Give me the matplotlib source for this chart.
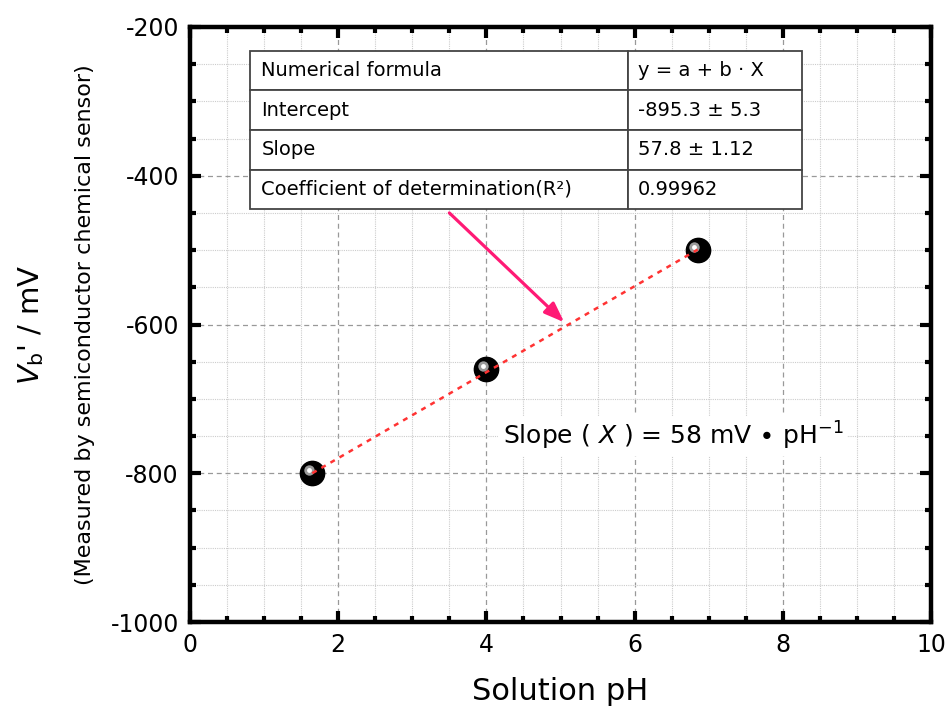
import matplotlib.pyplot as plt
import matplotlib.transforms as mtransforms
from matplotlib.ticker import MultipleLocator

plt.rcParams['font.family'] = ['DejaVu Sans']
plt.rcParams['mathtext.fontset'] = 'dejavusans'
plt.rcParams['axes.unicode_minus'] = False

# === DATA ===
ph = [1.65, 4.0, 6.85]
vb = [-800, -660, -500]
intercept = -895.3
slope = 57.8

table_labels = ['Numerical formula', 'Intercept', 'Slope',
                'Coefficient of determination(R²)']
table_values = ['y = a + b · X', '-895.3 ± 5.3', '57.8 ± 1.12', '0.99962']

PINK = '#FF1A75'
RED = '#FF3333'

fig = plt.figure(figsize=(9.51, 7.18), dpi=100)
ax = fig.add_axes([0.1998, 0.1337, 0.7792, 0.8287])

ax.set_xlim(0, 10)
ax.set_ylim(-1000, -200)
ax.xaxis.set_major_locator(MultipleLocator(2))
ax.xaxis.set_minor_locator(MultipleLocator(0.5))
ax.yaxis.set_major_locator(MultipleLocator(200))
ax.yaxis.set_minor_locator(MultipleLocator(50))

ax.grid(which='major', color='#999999', linestyle=(0, (4, 3)), linewidth=0.9)
ax.grid(which='minor', color='#cccccc', linestyle=(0, (1, 1)), linewidth=0.8)
ax.set_axisbelow(True)

for s in ax.spines.values():
    s.set_linewidth(3.2)
ax.tick_params(which='both', direction='in', top=True, right=True, width=3,
               labelsize=17, pad=8)
ax.tick_params(which='major', length=8)
ax.tick_params(which='minor', length=4)

# markers: black ball with a small highlight
ax.plot(ph, vb, 'o', color='black', markersize=17.5, zorder=3, linestyle='none')
off = mtransforms.offset_copy(ax.transData, fig=fig, x=-3.5, y=3.5, units='dots')
ax.plot(ph, vb, 'o', color='#9a9a9a', markersize=7.5, markeredgewidth=0,
        transform=off, zorder=4, linestyle='none')
ax.plot(ph, vb, 'o', color='white', markersize=3.5, markeredgewidth=0,
        transform=off, zorder=5, linestyle='none')

# fit line
x_fit = [min(ph), max(ph)]
y_fit = [intercept + slope * x for x in x_fit]
ax.plot(x_fit, y_fit, color=RED, linewidth=1.8, linestyle=(0, (2, 2.2)), zorder=6)

# arrow from table to the line
ax.annotate('', xy=(5.05, -597), xytext=(3.5, -450),
            arrowprops=dict(arrowstyle='-|>,head_width=0.45,head_length=1.2',
                            color=PINK, lw=2.3, shrinkA=0, shrinkB=0), zorder=7)

# table
tbl = ax.table(cellText=[[a, b] for a, b in zip(table_labels, table_values)],
               colWidths=[0.684, 0.316], cellLoc='left',
               bbox=[0.081, 0.694, 0.745, 0.266], zorder=8)
tbl.auto_set_font_size(False)
for (r, c), cell in tbl.get_celld().items():
    cell.set_fontsize(14)
    cell.set_edgecolor('#444444')
    cell.set_linewidth(1.3)
    cell.set_facecolor('white')
    cell.PAD = 0.03 if c == 0 else 0.06

ax.text(4.22, -750, r'Slope ( $X$ ) = 58 mV $\bullet$ pH$^{-1}$', fontsize=18,
        ha='left', va='center', zorder=8,
        bbox=dict(facecolor='white', edgecolor='none', pad=3))

ax.set_xlabel('Solution pH', fontsize=22, labelpad=14)
fig.text(0.033, 0.548, r"$V_{\mathrm{b}}$' / mV", rotation=90, fontsize=21,
         ha='center', va='center')
fig.text(0.089, 0.548, '(Measured by semiconductor chemical sensor)', rotation=90,
         fontsize=16, ha='center', va='center')

plt.savefig('out.png', dpi=100)
